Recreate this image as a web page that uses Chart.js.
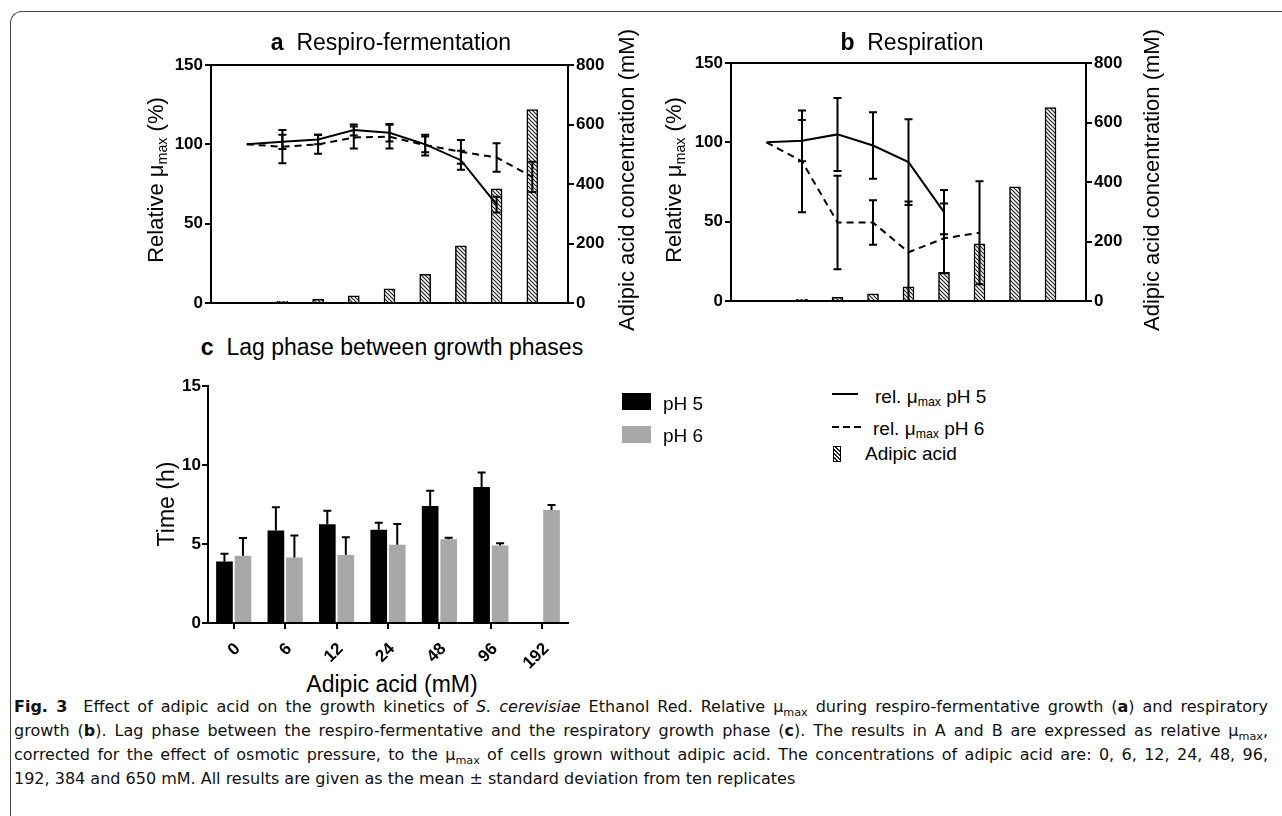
<!DOCTYPE html>
<html>
<head>
<meta charset="utf-8">
<script src="https://cdn.jsdelivr.net/npm/chart.js@4.4.1/dist/chart.umd.min.js"></script>
<style>
  body { margin: 0; background: #fff; }
  #page { position: relative; width: 1282px; height: 816px; overflow: hidden; font-family: "Liberation Sans", Arial, sans-serif; color: #000; }
  #frame { position: absolute; left: 10px; top: 11px; width: 1300px; height: 900px; border-top: 1px solid #444; border-left: 1px solid #444; border-top-left-radius: 12px; }
  .cv { position: absolute; }
  .txt { position: absolute; white-space: nowrap; font-size: 22px; line-height: 1; }
  .ttl { transform: translate(-50%, -50%); }
  .vert { transform: translate(-50%, -50%) rotate(-90deg); }
  sub { font-size: 0.65em; vertical-align: -0.3em; line-height: 0; }
  .leg { position: absolute; white-space: nowrap; font-size: 19px; line-height: 1; transform: translateY(-50%); }
  .box { position: absolute; }
  #caption { position: absolute; left: 14px; top: 695px; width: 1254px; font-family: "DejaVu Sans", sans-serif; font-size: 16px; line-height: 24px; color: #111; }
  #caption .ln { display: block; white-space: nowrap; text-align: justify; text-align-last: justify; }
  #caption .ln.last { text-align-last: left; }
  #caption sub { font-size: 0.7em; vertical-align: -0.35em; }
</style>
</head>
<body>
<div id="page">
  <div id="frame"></div>

  <canvas id="chA" class="cv" style="left:160px; top:50px;" width="460" height="270"></canvas>
  <canvas id="chB" class="cv" style="left:680px; top:50px;" width="460" height="270"></canvas>
  <canvas id="chC" class="cv" style="left:160px; top:370px;" width="420" height="300"></canvas>

  <div class="txt ttl" style="left:391px; top:42px; font-size:23px;"><b>a</b>&nbsp; Respiro-fermentation</div>
  <div class="txt ttl" style="left:912px; top:42px; font-size:23px;"><b>b</b>&nbsp; Respiration</div>
  <div class="txt ttl" style="left:392px; top:347px; font-size:23px;"><b>c</b>&nbsp; Lag phase between growth phases</div>

  <div class="txt vert" style="left:156px; top:180px;">Relative μ<sub>max</sub> (%)</div>
  <div class="txt vert" style="left:627px; top:180px;">Adipic acid concentration (mM)</div>
  <div class="txt vert" style="left:674px; top:180px;">Relative μ<sub>max</sub> (%)</div>
  <div class="txt vert" style="left:1152px; top:180px;">Adipic acid concentration (mM)</div>
  <div class="txt vert" style="left:166px; top:504px; font-size:23px;">Time (h)</div>
  <div class="txt ttl" style="left:392px; top:684px; font-size:23px;">Adipic acid (mM)</div>

  <div class="box" style="left:622px; top:393px; width:29px; height:17px; background:#000;"></div>
  <div class="leg" style="left:663px; top:403px;">pH 5</div>
  <div class="box" style="left:622px; top:426px; width:29px; height:17px; background:#a8a8a8;"></div>
  <div class="leg" style="left:663px; top:435px;">pH 6</div>

  <div class="box" style="left:832px; top:393px; width:26px; height:2px; background:#000;"></div>
  <div class="leg" style="left:875px; top:396px;">rel. μ<sub>max</sub> pH 5</div>
  <div class="box" style="left:832px; top:426px; width:30px; height:2px; background:repeating-linear-gradient(to right, #000 0 7px, transparent 7px 11px);"></div>
  <div class="leg" style="left:873px; top:428px;">rel. μ<sub>max</sub> pH 6</div>
  <div class="box" style="left:833px; top:446px; width:6px; height:14px; border:1.5px solid #000; background:repeating-linear-gradient(45deg, #fff 0 1.5px, #222 1.5px 3px);"></div>
  <div class="leg" style="left:865px; top:453px;">Adipic acid</div>

  <div id="caption">
    <span class="ln"><b>Fig. 3</b>&nbsp; Effect of adipic acid on the growth kinetics of <i>S. cerevisiae</i> Ethanol Red. Relative μ<sub>max</sub> during respiro-fermentative growth (<b>a</b>) and respiratory</span>
    <span class="ln">growth (<b>b</b>). Lag phase between the respiro-fermentative and the respiratory growth phase (<b>c</b>). The results in A and B are expressed as relative μ<sub>max</sub>,</span>
    <span class="ln">corrected for the effect of osmotic pressure, to the μ<sub>max</sub> of cells grown without adipic acid. The concentrations of adipic acid are: 0, 6, 12, 24, 48, 96,</span>
    <span class="ln last">192, 384 and 650 mM. All results are given as the mean ± standard deviation from ten replicates</span>
  </div>
</div>

<script>
// adipic acid concentrations (mM), one category each
const concLabels = ["0", "6", "12", "24", "48", "96", "192", "384", "650"];
const adipicConc = [0, 6, 12, 24, 48, 96, 192, 384, 650];

// a: respiro-fermentation, relative umax (%) and sd
const relA_pH5 = [100, 101.6, 103, 109, 107.3, 100, 90, 62, null];
const errA_pH5 = [0, 4.5, 3, 3.5, 5.5, 5, 6, 5, null];
const relA_pH6 = [100, 98.5, 100, 104.3, 104.8, 99.5, 95.3, 91.7, 79.5];
const errA_pH6 = [0, 10.5, 6, 7, 7.5, 6.5, 7.5, 9, 9.5];

// b: respiration
const relB_pH5 = [100, 101, 105, 98, 87.5, 56, null, null, null];
const errB_pH5 = [0, 13, 23, 21, 27, 14, null, null, null];
const relB_pH6 = [100, 88, 49.5, 49.5, 30.7, 39.5, 43, null, null];
const errB_pH6 = [0, 32, 29.5, 14, 32, 22, 32.5, null, null];

// c: lag phase (h)
const lagLabels = ["0", "6", "12", "24", "48", "96", "192"];
const lag_pH5 = [3.9, 5.85, 6.25, 5.9, 7.4, 8.6, null];
const lagErr_pH5 = [0.48, 1.48, 0.85, 0.45, 0.97, 0.92, null];
const lag_pH6 = [4.25, 4.15, 4.3, 4.95, 5.3, 4.9, 7.15];
const lagErr_pH6 = [1.13, 1.39, 1.13, 1.31, 0.1, 0.15, 0.32];

Chart.defaults.font.family = "'Liberation Sans', Arial, sans-serif";
Chart.defaults.color = "#000";

let tickFont = { size: 17, weight: "bold" };

function hatch() {
  let c = document.createElement("canvas");
  c.width = 4;
  c.height = 4;
  let g = c.getContext("2d");
  g.fillStyle = "#fff";
  g.fillRect(0, 0, 4, 4);
  g.strokeStyle = "#222";
  g.lineWidth = 1.2;
  g.beginPath();
  g.moveTo(-1, -1); g.lineTo(5, 5);
  g.moveTo(-1, 3); g.lineTo(1, 5);
  g.moveTo(3, -1); g.lineTo(5, 1);
  g.stroke();
  return g.createPattern(c, "repeat");
}

// top and bottom edges of the boxed plots a and b
const boxFrame = {
  id: "boxFrame",
  afterDraw(chart) {
    let area = chart.chartArea;
    let g = chart.ctx;
    g.save();
    g.fillStyle = "#000";
    g.fillRect(area.left - 1, area.top - 1, area.right - area.left + 2, 2);
    g.fillRect(area.left - 1, area.bottom - 1, area.right - area.left + 2, 2);
    g.restore();
  },
};

// error bars from dataset.errors through the chart's own scales
const errorBars = {
  id: "errorBars",
  afterDatasetsDraw(chart) {
    let g = chart.ctx;
    chart.data.datasets.forEach((ds, di) => {
      if (!ds.errors) return;
      let meta = chart.getDatasetMeta(di);
      let ys = chart.scales[ds.yAxisID || "y"];
      g.save();
      g.strokeStyle = "#000";
      g.lineWidth = 2;
      meta.data.forEach((el, i) => {
        let v = ds.data[i];
        if (v !== null && typeof v === "object") v = v.y;
        let e = ds.errors[i];
        if (v == null || !e) return;
        let x = el.x;
        let top = ys.getPixelForValue(v + e);
        let bot = ds.upOnly ? ys.getPixelForValue(v) : ys.getPixelForValue(Math.max(v - e, ys.min));
        let w = ds.capWidth || 4;
        g.beginPath();
        g.moveTo(x, top); g.lineTo(x, bot);
        g.moveTo(x - w, top); g.lineTo(x + w, top);
        if (!ds.upOnly && v - e >= ys.min) { g.moveTo(x - w, bot); g.lineTo(x + w, bot); }
        g.stroke();
      });
      g.restore();
    });
  },
};

function points(vals) {
  return vals.map((v, i) => ({ x: i, y: v }));
}

function frameAxis(pos) {
  return {
    type: "linear", min: -1, max: 9, offset: false, position: pos,
    ticks: { display: false },
    grid: { display: false, drawTicks: false },
    border: { display: true, color: "#000", width: 2 },
  };
}

function growthChart(id, pH5, err5, pH6, err6, leftW, rightW, padTop, padBottom) {
  return new Chart(document.getElementById(id), {
    type: "bar",
    data: {
      datasets: [
        {
          type: "line", label: "rel. μmax pH 5", data: points(pH5), errors: err5, capWidth: 4,
          borderColor: "#000", borderWidth: 2, pointRadius: 0, tension: 0, spanGaps: false, xAxisID: "x", yAxisID: "y", order: 0,
        },
        {
          type: "line", label: "rel. μmax pH 6", data: points(pH6), errors: err6, capWidth: 4,
          borderColor: "#000", borderWidth: 2, borderDash: [7, 5], pointRadius: 0, tension: 0, xAxisID: "x", yAxisID: "y", order: 0,
        },
        {
          type: "bar", label: "Adipic acid", data: points(adipicConc),
          backgroundColor: hatch(), borderColor: "#000", borderWidth: 1.5, barThickness: 11, xAxisID: "x", yAxisID: "y2", order: 1,
        },
      ],
    },
    options: {
      animation: false,
      responsive: false,
      layout: { padding: { top: padTop, bottom: padBottom, left: 0, right: 0 } },
      plugins: { legend: { display: false }, tooltip: { enabled: false } },
      scales: {
        x: frameAxis("bottom"),
        xTop: frameAxis("top"),
        y: {
          position: "left", min: 0, max: 150,
          ticks: { stepSize: 50, font: tickFont, padding: 2 },
          grid: { drawOnChartArea: false, drawTicks: true, tickLength: 6, color: "#000", lineWidth: 2 },
          border: { display: true, color: "#000", width: 2 },
          afterFit: (s) => { s.width = leftW; },
        },
        y2: {
          position: "right", min: 0, max: 800,
          ticks: { stepSize: 200, font: tickFont, padding: 2 },
          grid: { drawOnChartArea: false, drawTicks: true, tickLength: 6, color: "#000", lineWidth: 2 },
          border: { display: true, color: "#000", width: 2 },
          afterFit: (s) => { s.width = rightW; },
        },
      },
    },
    plugins: [boxFrame, errorBars],
  });
}

let chA = growthChart("chA", relA_pH5, errA_pH5, relA_pH6, errA_pH6, 51, 52, 15, 17);
let chB = growthChart("chB", relB_pH5, errB_pH5, relB_pH6, errB_pH6, 51, 54, 13, 19);

let chC = new Chart(document.getElementById("chC"), {
  type: "bar",
  data: {
    labels: lagLabels,
    datasets: [
      {
        label: "pH 5", data: lag_pH5, errors: lagErr_pH5, upOnly: true, capWidth: 4,
        backgroundColor: "#000", categoryPercentage: 0.72, barPercentage: 0.9,
      },
      {
        label: "pH 6", data: lag_pH6, errors: lagErr_pH6, upOnly: true, capWidth: 4,
        backgroundColor: "#a8a8a8", categoryPercentage: 0.72, barPercentage: 0.9,
      },
    ],
  },
  options: {
    animation: false,
    responsive: false,
    layout: { padding: { top: 16, right: 12, left: 0, bottom: 0 } },
    plugins: { legend: { display: false }, tooltip: { enabled: false } },
    scales: {
      x: {
        ticks: { font: tickFont, minRotation: 45, maxRotation: 45, autoSkip: false, padding: 10, labelOffset: 4 },
        grid: { drawOnChartArea: false, offset: false, drawTicks: true, tickLength: 6, color: "#000", lineWidth: 2 },
        border: { display: true, color: "#000", width: 2 },
        afterFit: (s) => { s.height = 47; },
      },
      y: {
        min: 0, max: 15,
        ticks: { stepSize: 5, font: tickFont, padding: 1 },
        grid: { drawOnChartArea: false, drawTicks: true, tickLength: 6, color: "#000", lineWidth: 2 },
        border: { display: true, color: "#000", width: 2 },
        afterFit: (s) => { s.width = 48; },
      },
    },
  },
  plugins: [errorBars],
});
</script>
</body>
</html>
